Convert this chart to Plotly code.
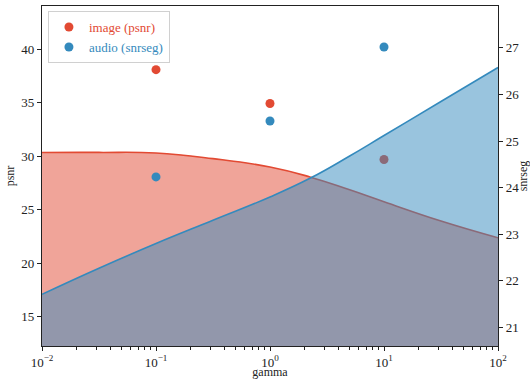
import plotly.graph_objects as go

# ---- data ----
gamma_pts = [0.1, 1, 10]
psnr_pts = [38.1, 34.93, 29.7]
snrseg_pts = [24.23, 25.43, 27.02]

gamma_curve = [0.01, 0.0316, 0.1, 0.316, 1, 2.24, 5, 10, 31.6, 100]
psnr_curve = [30.35, 30.36, 30.3, 29.78, 29.0, 28.07, 26.86, 25.75, 23.95, 22.38]
snrseg_curve = [21.71, 22.27, 22.80, 23.30, 23.80, 24.2, 24.68, 25.12, 25.85, 26.58]

xtick_vals = [0.01, 0.1, 1, 10, 100]
xtick_text = ["10<sup>−2</sup>", "10<sup>−1</sup>", "10<sup>0</sup>", "10<sup>1</sup>", "10<sup>2</sup>"]
minor_vals = [m * 10 ** e for e in (-2, -1, 0, 1) for m in range(2, 10)]

RED = "#E24A33"
BLUE = "#348ABD"
FONT = "Liberation Serif"

fig = go.Figure()

# image (psnr) - points then fitted curve (left axis)
fig.add_trace(go.Scatter(
    x=gamma_pts, y=psnr_pts, mode="markers",
    marker=dict(color=RED, size=9),
    name=f"<span style='color:{RED}'>image (psnr)</span>",
    yaxis="y",
))
fig.add_trace(go.Scatter(
    x=gamma_curve, y=psnr_curve, mode="lines",
    line=dict(color=RED, width=1.6, shape="spline", smoothing=1.3),
    fill="tozeroy", fillcolor="rgba(226,74,51,0.5)",
    showlegend=False, yaxis="y",
))

# audio (snrseg) - fitted curve then points (right axis)
fig.add_trace(go.Scatter(
    x=gamma_curve, y=snrseg_curve, mode="lines",
    line=dict(color=BLUE, width=1.6, shape="spline", smoothing=1.3),
    fill="tozeroy", fillcolor="rgba(52,138,189,0.5)",
    showlegend=False, yaxis="y2",
))
fig.add_trace(go.Scatter(
    x=gamma_pts, y=snrseg_pts, mode="markers",
    marker=dict(color=BLUE, size=9),
    name=f"<span style='color:{BLUE}'>audio (snrseg)</span>",
    yaxis="y2",
))

axis_common = dict(
    showgrid=False, zeroline=False, showline=True, linecolor="#222222", linewidth=1.3,
    ticks="outside", ticklen=4, tickwidth=1, tickcolor="#222222",
    tickfont=dict(family=FONT, size=13, color="#222222"),
    automargin=False,
)

fig.update_layout(
    width=530, height=379,
    margin=dict(l=42, r=32, t=6, b=33),
    paper_bgcolor="white", plot_bgcolor="white",
    font=dict(family=FONT, size=12, color="#222222"),
    xaxis=dict(
        type="log", range=[-2, 2],
        tickvals=xtick_vals, ticktext=xtick_text,
        mirror=True,
        minor=dict(tickvals=minor_vals, ticks="outside", ticklen=2.5, tickcolor="#222222", showgrid=False),
        title=dict(text="gamma", standoff=4, font=dict(family=FONT, size=12)),
        **axis_common,
    ),
    yaxis=dict(
        range=[12.26, 44.05], tickvals=[15, 20, 25, 30, 35, 40],
        title=dict(text="psnr", standoff=4, font=dict(family=FONT, size=12)),
        **axis_common,
    ),
    yaxis2=dict(
        range=[20.60, 27.90], tickvals=[21, 22, 23, 24, 25, 26, 27],
        overlaying="y", side="right",
        title=dict(text="snrseg", standoff=4, font=dict(family=FONT, size=12)),
        **axis_common,
    ),
    legend=dict(
        x=0.013, y=0.985, xanchor="left", yanchor="top",
        bgcolor="rgba(255,255,255,0.85)", bordercolor="#d0d0d0", borderwidth=1,
        font=dict(family=FONT, size=13),
        tracegroupgap=0, itemwidth=30,
    ),
)

fig.write_html(
    "out.html",
    config={"displayModeBar": False},
    post_script="document.body.style.margin='0';document.body.style.overflow='hidden';",
)
